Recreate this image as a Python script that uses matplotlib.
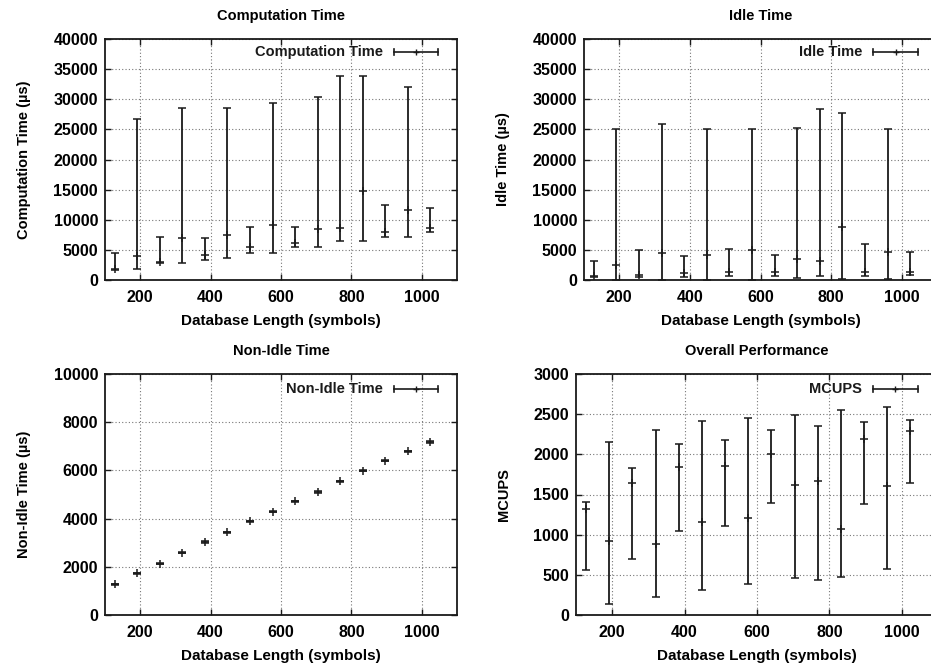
import matplotlib
matplotlib.use("Agg")
import matplotlib.pyplot as plt
from matplotlib.ticker import MultipleLocator

plt.rcParams['font.family'] = ['Liberation Sans', 'DejaVu Sans']
plt.rcParams['font.weight'] = 'bold'

db_length = [128, 192, 256, 320, 384, 448, 512, 576, 640, 704, 768, 832, 896, 960, 1024]

comp_mid = [1900, 4000, 3000, 7000, 4100, 7500, 5400, 9200, 6200, 8400, 8700, 14800, 7900, 11600, 8600]
comp_low = [1700, 1800, 2800, 2800, 3400, 3700, 4500, 4500, 5400, 5400, 6400, 6400, 7100, 7100, 8000]
comp_high = [4450, 26700, 7200, 28500, 7000, 28600, 8850, 29300, 8850, 30400, 33900, 33900, 12400, 32000, 12000]

idle_mid = [700, 2500, 900, 4500, 1100, 4200, 1400, 5000, 1400, 3500, 3200, 8800, 1400, 4700, 1300]
idle_low = [550, 0, 550, 50, 550, 50, 700, 50, 700, 300, 700, 150, 700, 150, 900]
idle_high = [3200, 25000, 5050, 25900, 4050, 25100, 5100, 25100, 4200, 25300, 28300, 27800, 6000, 25100, 4700]

nonidle_mid = [1270, 1730, 2120, 2590, 3020, 3430, 3880, 4290, 4720, 5110, 5540, 5980, 6400, 6800, 7160]
nonidle_low = [1250, 1710, 2100, 2570, 2990, 3410, 3850, 4270, 4700, 5080, 5520, 5960, 6380, 6780, 7120]
nonidle_high = [1290, 1750, 2140, 2610, 3050, 3450, 3910, 4310, 4740, 5140, 5560, 6000, 6420, 6820, 7200]

mcups_mid = [1321, 922, 1641, 881, 1845, 1155, 1857, 1205, 2007, 1616, 1674, 1072, 2193, 1600, 2285]
mcups_low = [561, 133, 694, 228, 1051, 312, 1109, 382, 1392, 457, 436, 478, 1383, 577, 1641]
mcups_high = [1408, 2148, 1828, 2297, 2127, 2410, 2181, 2451, 2297, 2493, 2347, 2547, 2405, 2584, 2426]

W, H = 931, 668
fig = plt.figure(figsize=(W / 100, H / 100), dpi=100)

def px_axes(left, top, right, bottom):
    return fig.add_axes([left / W, 1 - bottom / H, (right - left) / W, (bottom - top) / H])

ink = '#1a1a1a'

panels = [
    dict(rect=(105, 39, 457, 280), title='Computation Time', ylabel='Computation Time (µs)',
         mid=comp_mid, low=comp_low, high=comp_high, ylim=(0, 40000), ystep=5000,
         leg='Computation Time', legy=0.946),
    dict(rect=(584, 39, 937, 280), title='Idle Time', ylabel='Idle Time (µs)',
         mid=idle_mid, low=idle_low, high=idle_high, ylim=(0, 40000), ystep=5000,
         leg='Idle Time', legy=0.946),
    dict(rect=(105, 374, 457, 615), title='Non-Idle Time', ylabel='Non-Idle Time (µs)',
         mid=nonidle_mid, low=nonidle_low, high=nonidle_high, ylim=(0, 10000), ystep=2000,
         leg='Non-Idle Time', legy=0.939),
    dict(rect=(576, 374, 938, 615), title='Overall Performance', ylabel='MCUPS',
         mid=mcups_mid, low=mcups_low, high=mcups_high, ylim=(0, 3000), ystep=500,
         leg='MCUPS', legy=0.939),
]

for p in panels:
    ax = px_axes(*p['rect'])
    mid = p['mid']
    yerr = [[m - l for m, l in zip(mid, p['low'])], [h - m for m, h in zip(mid, p['high'])]]
    ax.errorbar(db_length, mid, yerr=yerr, fmt='+', color=ink, ecolor=ink,
                elinewidth=1.3, capsize=3, capthick=1.1, markersize=6, markeredgewidth=1.1)
    ax.set_xlim(100, 1100)
    ax.set_ylim(*p['ylim'])
    ax.xaxis.set_major_locator(MultipleLocator(200))
    ax.yaxis.set_major_locator(MultipleLocator(p['ystep']))
    ax.grid(True, color='#777777', linestyle=(0, (1, 2)), linewidth=0.8)
    ax.tick_params(direction='in', top=True, right=True, length=4, width=1,
                   labelsize=11.5, color=ink)
    ax.tick_params(axis='x', pad=7)
    ax.tick_params(axis='y', pad=5)
    for lab in ax.get_xticklabels() + ax.get_yticklabels():
        lab.set_fontweight('bold')
    for s in ax.spines.values():
        s.set_linewidth(1.3)
        s.set_color(ink)
    ax.set_title(p['title'], fontsize=10.5, fontweight='bold', pad=14)
    ax.set_ylabel(p['ylabel'], fontsize=10.5, fontweight='bold', labelpad=16)
    ax.set_xlabel('Database Length (symbols)', fontsize=11, fontweight='bold', labelpad=7)
    # gnuplot-style legend
    ly = p['legy']
    ax.text(0.79, ly, p['leg'], transform=ax.transAxes, ha='right', va='center',
            fontsize=10.5, fontweight='bold', color=ink)
    ax.plot([0.82, 0.945], [ly, ly], transform=ax.transAxes, color=ink, lw=1.2, clip_on=False)
    for xx in (0.82, 0.945):
        ax.plot([xx, xx], [ly - 0.012, ly + 0.012], transform=ax.transAxes, color=ink, lw=1.2, clip_on=False)
    ax.plot([0.8825], [ly], transform=ax.transAxes, marker='+', color=ink, ms=5, mew=1, clip_on=False)

fig.savefig('out.png', dpi=100)
